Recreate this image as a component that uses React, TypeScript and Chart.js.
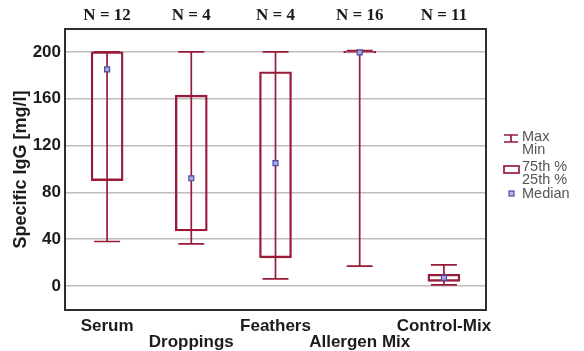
import React, { useEffect, useRef } from 'react';
import { Chart, registerables } from 'chart.js';

Chart.register(...registerables);

const categories = ['Serum', 'Droppings', 'Feathers', 'Allergen Mix', 'Control-Mix'];
const nLabels = ['N = 12', 'N = 4', 'N = 4', 'N = 16', 'N = 11'];
const maxValues = [200, 200, 200, 201, 18];
const minValues = [38, 36, 6, 17, 1];
const q3Values = [200, 163, 183, 200.5, 10];
const q1Values = [90, 47, 24, 199, 4];
const medianValues = [185, 92, 105, 199.5, 7];
const yTicks = [0, 40, 80, 120, 160, 200];

const BOX = '#981c3a';
const SANS = '"Liberation Sans", Arial, Helvetica, sans-serif';
const SERIF = '"Liberation Serif", "Times New Roman", serif';

const whiskerPlugin = {
  id: 'whiskers',
  beforeDatasetsDraw(chart: any) {
    const { ctx, scales } = chart;
    const x = scales.x;
    const y = scales.y;
    ctx.save();
    ctx.strokeStyle = BOX;
    ctx.lineWidth = 1.7;
    categories.forEach((_, i) => {
      const cx = x.getPixelForValue(i);
      const yMax = y.getPixelForValue(maxValues[i]);
      const yMin = y.getPixelForValue(minValues[i]);
      const half = 13;
      ctx.beginPath();
      ctx.moveTo(cx, yMax);
      ctx.lineTo(cx, yMin);
      ctx.moveTo(cx - half, yMax);
      ctx.lineTo(cx + half, yMax);
      ctx.moveTo(cx - half, yMin);
      ctx.lineTo(cx + half, yMin);
      ctx.stroke();
    });
    ctx.restore();
  },
};

const framePlugin = {
  id: 'frame',
  afterDraw(chart: any) {
    const { ctx, chartArea } = chart;
    ctx.save();
    ctx.strokeStyle = '#2e2e2e';
    ctx.lineWidth = 2;
    ctx.strokeRect(chartArea.left, chartArea.top, chartArea.right - chartArea.left, chartArea.bottom - chartArea.top);
    ctx.restore();
  },
};

const legendPlugin = {
  id: 'customLegend',
  afterDraw(chart: any) {
    const { ctx, chartArea } = chart;
    const x0 = chartArea.right + 18;
    ctx.save();
    ctx.strokeStyle = BOX;
    ctx.lineWidth = 1.7;
    // whisker icon
    const wy = 139;
    ctx.beginPath();
    ctx.moveTo(x0, wy - 4);
    ctx.lineTo(x0 + 14, wy - 4);
    ctx.moveTo(x0, wy + 3);
    ctx.lineTo(x0 + 14, wy + 3);
    ctx.moveTo(x0 + 7, wy - 4);
    ctx.lineTo(x0 + 7, wy + 3);
    ctx.stroke();
    // box icon
    ctx.strokeRect(x0, 166, 15, 7);
    // median icon
    ctx.fillStyle = '#b8b8e0';
    ctx.strokeStyle = '#4b4ba6';
    ctx.lineWidth = 1.2;
    ctx.fillRect(x0 + 5, 191, 5, 5);
    ctx.strokeRect(x0 + 5, 191, 5, 5);
    // texts
    ctx.fillStyle = '#555';
    ctx.font = '14.5px ' + SANS;
    ctx.textBaseline = 'middle';
    ctx.textAlign = 'left';
    const tx = x0 + 18;
    ctx.fillText('Max', tx, 137);
    ctx.fillText('Min', tx, 150);
    ctx.fillText('75th %', tx, 167);
    ctx.fillText('25th %', tx, 180);
    ctx.fillText('Median', tx, 194);
    ctx.restore();
  },
};

export default function App() {
  const canvasRef = useRef<HTMLCanvasElement | null>(null);

  useEffect(() => {
    if (!canvasRef.current) return;
    const chart = new Chart(canvasRef.current, {
      type: 'bar',
      data: {
        labels: categories,
        datasets: [
          {
            type: 'line',
            label: 'Median',
            data: medianValues,
            showLine: false,
            pointStyle: 'rect',
            pointRadius: 3.5,
            pointBackgroundColor: '#a9a9dc',
            pointBorderColor: '#4b4ba6',
            pointBorderWidth: 1.2,
            order: 0,
          } as any,
          {
            type: 'bar',
            label: 'Quartiles',
            data: q1Values.map((q1, i) => [q1, q3Values[i]]),
            backgroundColor: 'rgba(0,0,0,0)',
            borderColor: BOX,
            borderWidth: 1.7,
            borderSkipped: false,
            barThickness: 32,
            order: 1,
          } as any,
        ],
      },
      options: {
        responsive: false,
        animation: false,
        layout: { padding: { left: 0, right: 98, top: 0, bottom: 0 } },
        plugins: {
          legend: { display: false },
          tooltip: { enabled: false },
        },
        scales: {
          x: {
            type: 'category',
            position: 'bottom',
            offset: true,
            grid: { display: false, drawTicks: false },
            border: { display: false },
            ticks: {
              autoSkip: false,
              maxRotation: 0,
              minRotation: 0,
              padding: 8,
              color: '#1c1c1c',
              font: { family: SANS, size: 17, weight: 'bold', lineHeight: '16px' } as any,
              callback: (_v: any, i: number) => (i % 2 === 1 ? ['', categories[i]] : categories[i]),
            },
            afterFit: (s: any) => {
              s.height = 41;
            },
          },
          x2: {
            type: 'category',
            position: 'top',
            labels: nLabels,
            offset: true,
            grid: { display: false, drawTicks: false },
            border: { display: false },
            ticks: {
              autoSkip: false,
              maxRotation: 0,
              minRotation: 0,
              padding: 3,
              color: '#1c1c1c',
              font: { family: SERIF, size: 17, weight: 'bold' } as any,
            },
            afterFit: (s: any) => {
              s.height = 29;
            },
          },
          y: {
            type: 'linear',
            min: -20.5,
            max: 219.5,
            grid: { color: '#bdbdbd', lineWidth: 1.5, drawTicks: false },
            border: { display: false },
            afterBuildTicks: (s: any) => {
              s.ticks = yTicks.map((v) => ({ value: v }));
            },
            ticks: {
              padding: 4,
              color: '#1c1c1c',
              font: { family: SANS, size: 17, weight: 'bold' } as any,
            },
            title: {
              display: true,
              text: 'Specific IgG [mg/l]',
              color: '#1c1c1c',
              font: { family: SANS, size: 18, weight: 'bold' } as any,
              padding: { top: 10, bottom: 0 },
            },
            afterFit: (s: any) => {
              s.width = 65;
            },
          },
        },
      } as any,
      plugins: [whiskerPlugin, framePlugin, legendPlugin],
    });
    return () => chart.destroy();
  }, []);

  return (
    <div style={{ position: 'fixed', left: 0, top: 0, width: 584, height: 351, background: '#fff' }}>
      <canvas ref={canvasRef} width={584} height={351} />
    </div>
  );
}
